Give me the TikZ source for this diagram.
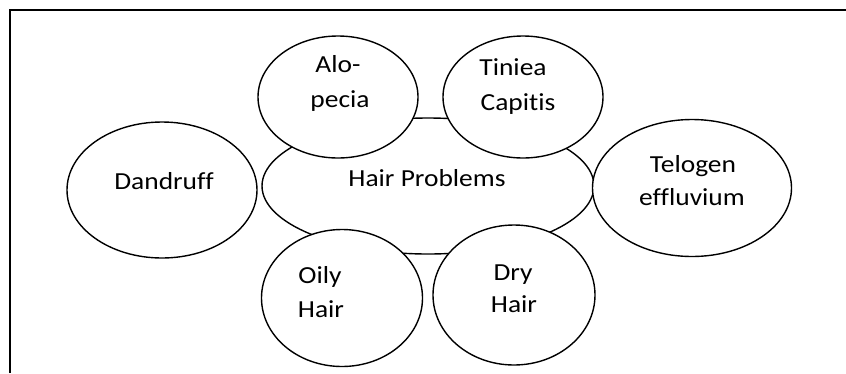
\documentclass[tikz,border=0pt]{standalone}
\usepackage{fontspec}
\setmainfont{Carlito}[FakeStretch=1.12, Ligatures=NoCommon]
\usetikzlibrary{shapes.geometric}
\tikzset{
  blob/.style={draw=black, line width=1.4pt, fill=white, ellipse, inner sep=0pt},
  lbl/.style={anchor=base, inner sep=0pt, font=\fontsize{24.5}{35}\selectfont, text=black},
  frame/.style={draw=black, line width=2.2pt}
}
\begin{document}
\begin{tikzpicture}[x=1pt,y=-1pt]
\useasboundingbox (0,0) rectangle (846,373);
\coordinate (fl) at (10,373);
\coordinate (fc) at (10,10);
\coordinate (fr) at (846,10);
\draw[frame] (fl) -- (fc) -- (fr);
% centre
\node[blob, minimum width=332pt, minimum height=136pt] (hp) at (428,186) {};
% outer
\node[blob, minimum width=190pt, minimum height=136pt] (dan) at (162,190) {};
\node[blob, minimum width=199pt, minimum height=137pt] (tel) at (692,188) {};
\node[blob, minimum width=160pt, minimum height=122pt] (alo) at (338,97) {};
\node[blob, minimum width=160pt, minimum height=122pt] (tin) at (523,97) {};
\node[blob, minimum width=161pt, minimum height=137pt] (oil) at (342,298) {};
\node[blob, minimum width=162pt, minimum height=140pt] (dry) at (514,295) {};
% labels
\node[lbl] (hpt) at (427,186) {Hair Problems};
\node[lbl] (dant) at (164,189) {Dandruff};
\node[lbl] (alo1) at (338,72) {Alo-};
\node[lbl] (alo2) at (340,107) {pecia};
\node[lbl] (tin1) at (513,75) {Tiniea};
\node[lbl] (tin2) at (518,110) {Capitis};
\node[lbl] (tel1) at (693,172) {Telogen};
\node[lbl] (tel2) at (692,205) {effluvium};
\node[lbl] (oil1) at (320,283) {Oily};
\node[lbl] (oil2) at (321,317) {Hair};
\node[lbl] (dry1) at (513,280) {Dry};
\node[lbl] (dry2) at (514,312) {Hair};
\end{tikzpicture}
\end{document}
